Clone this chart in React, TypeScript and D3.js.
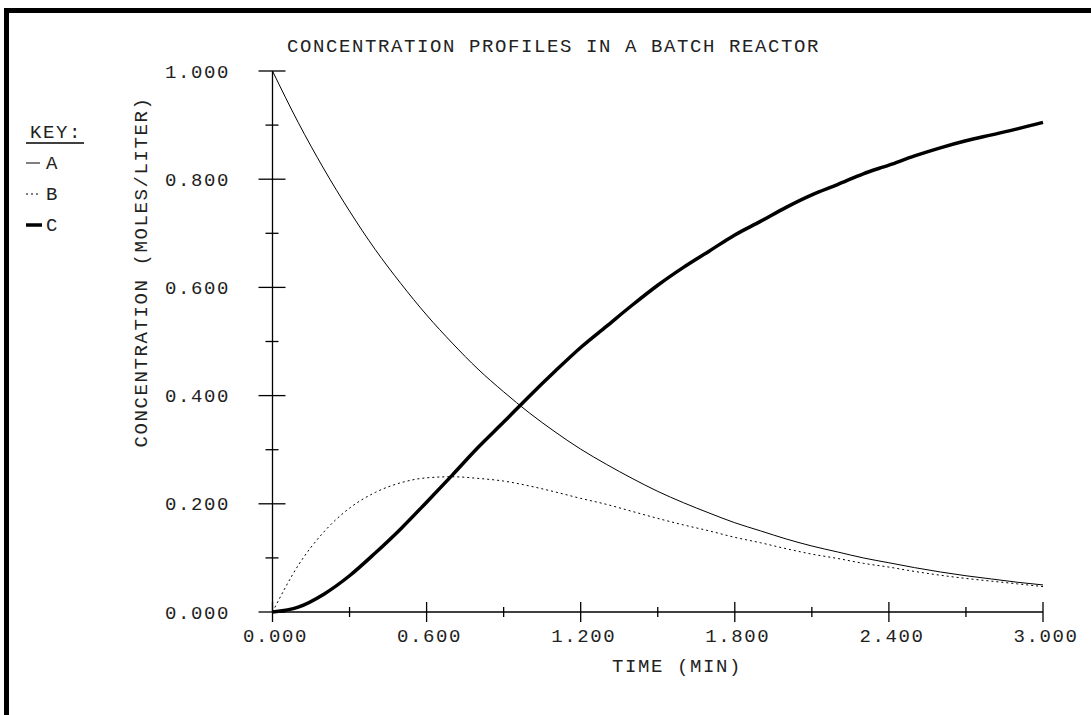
import React from "react";
import * as d3 from "d3";

const times = [0, 0.1, 0.2, 0.3, 0.4, 0.5, 0.6, 0.7, 0.8, 0.9, 1.0, 1.1, 1.2, 1.3, 1.4, 1.5, 1.6, 1.7, 1.8, 1.9, 2.0, 2.1, 2.2, 2.3, 2.4, 2.5, 2.6, 2.7, 2.8, 2.9, 3.0];
const seriesA = [1.0, 0.905, 0.819, 0.741, 0.67, 0.607, 0.549, 0.497, 0.449, 0.407, 0.368, 0.333, 0.301, 0.273, 0.247, 0.223, 0.202, 0.183, 0.165, 0.15, 0.135, 0.122, 0.111, 0.1, 0.091, 0.082, 0.074, 0.067, 0.061, 0.055, 0.05];
const seriesB = [0.0, 0.086, 0.148, 0.192, 0.221, 0.239, 0.248, 0.25, 0.247, 0.242, 0.233, 0.222, 0.21, 0.199, 0.186, 0.173, 0.161, 0.15, 0.138, 0.128, 0.117, 0.107, 0.099, 0.09, 0.083, 0.075, 0.068, 0.062, 0.057, 0.052, 0.047];
const seriesC = [0.0, 0.009, 0.033, 0.067, 0.109, 0.154, 0.203, 0.253, 0.304, 0.351, 0.399, 0.445, 0.489, 0.528, 0.567, 0.604, 0.637, 0.667, 0.697, 0.722, 0.748, 0.771, 0.79, 0.81, 0.826, 0.843, 0.858, 0.871, 0.882, 0.893, 0.905];
const xMajorTicks = [0, 0.6, 1.2, 1.8, 2.4, 3.0];
const xMinorTicks = [0.3, 0.9, 1.5, 2.1, 2.7];
const yMajorTicks = [0, 0.2, 0.4, 0.6, 0.8, 1.0];
const yMinorTicks = [0.1, 0.3, 0.5, 0.7, 0.9];
const keyLabels = ["A", "B", "C"];
const title = "CONCENTRATION PROFILES IN A BATCH REACTOR";
const xTitle = "TIME (MIN)";
const yTitle = "CONCENTRATION (MOLES/LITER)";

const FONT = "'Liberation Mono', 'DejaVu Sans Mono', monospace";
const fontProps = { fontFamily: FONT, fontSize: 19, letterSpacing: 1.6, fill: "#222" };

export default function App() {
  const x = d3.scaleLinear().domain([0, 3]).range([272.5, 1043]);
  const y = d3.scaleLinear().domain([0, 1]).range([612, 71]);
  const line = (vals: number[]) =>
    d3.line<number>().x((_, i) => x(times[i])).y((d) => y(d)).curve(d3.curveMonotoneX)(vals) || "";

  const styles = [
    { stroke: "#000", strokeWidth: 1, dash: undefined as string | undefined },
    { stroke: "#000", strokeWidth: 1, dash: "2,3" },
    { stroke: "#000", strokeWidth: 3.5, dash: undefined },
  ];
  const data = [seriesA, seriesB, seriesC];

  return (
    <svg width={1091} height={715} style={{ position: "absolute", left: 0, top: 0, background: "#fff" }}>
      <rect x={6.5} y={10.5} width={1100} height={720} fill="#fff" stroke="#000" strokeWidth={5} />
      <text x={287} y={52} {...fontProps}>{title}</text>

      {/* axes */}
      <line x1={x(0)} x2={x(0)} y1={y(0)} y2={y(1)} stroke="#000" strokeWidth={1.3} />
      <line x1={x(0)} x2={x(3)} y1={y(0)} y2={y(0)} stroke="#000" strokeWidth={1.3} />
      {yMajorTicks.map((t) => (
        <g key={"ym" + t}>
          <line x1={x(0) - 14} x2={x(0) + 13} y1={y(t)} y2={y(t)} stroke="#000" strokeWidth={1.3} />
          <text x={230} y={y(t) + 6.5} textAnchor="end" {...fontProps}>
            {t.toFixed(3)}
          </text>
        </g>
      ))}
      {yMinorTicks.map((t) => (
        <line key={"yn" + t} x1={x(0) - 7} x2={x(0) + 6} y1={y(t)} y2={y(t)} stroke="#000" strokeWidth={1.3} />
      ))}
      {xMajorTicks.map((t) => (
        <g key={"xm" + t}>
          <line x1={x(t)} x2={x(t)} y1={y(0) - 10} y2={y(0) + 10} stroke="#000" strokeWidth={1.3} />
          <text x={x(t) + 3} y={642} textAnchor="middle" {...fontProps}>
            {t.toFixed(3)}
          </text>
        </g>
      ))}
      {xMinorTicks.map((t) => (
        <line key={"xn" + t} x1={x(t)} x2={x(t)} y1={y(0) - 5} y2={y(0) + 5} stroke="#000" strokeWidth={1.3} />
      ))}
      <text x={612} y={672} {...fontProps}>{xTitle}</text>
      <text transform="translate(147,272) rotate(-90)" textAnchor="middle" {...fontProps}>{yTitle}</text>

      {/* series */}
      {data.map((vals, i) => (
        <path
          key={"s" + i}
          d={line(vals)}
          fill="none"
          stroke={styles[i].stroke}
          strokeWidth={styles[i].strokeWidth}
          strokeDasharray={styles[i].dash}
          strokeLinejoin="round"
        />
      ))}

      {/* key */}
      <text x={30} y={138} {...fontProps}>KEY:</text>
      <line x1={26} x2={84} y1={143} y2={143} stroke="#000" strokeWidth={1.3} />
      {keyLabels.map((k, i) => (
        <g key={"k" + k}>
          <line
            x1={26}
            x2={i === 2 ? 42 : 40}
            y1={163 + i * 31}
            y2={163 + i * 31}
            stroke="#000"
            strokeWidth={styles[i].strokeWidth}
            strokeDasharray={styles[i].dash}
          />
          <text x={46} y={169 + i * 31} {...fontProps}>{k}</text>
        </g>
      ))}
    </svg>
  );
}
